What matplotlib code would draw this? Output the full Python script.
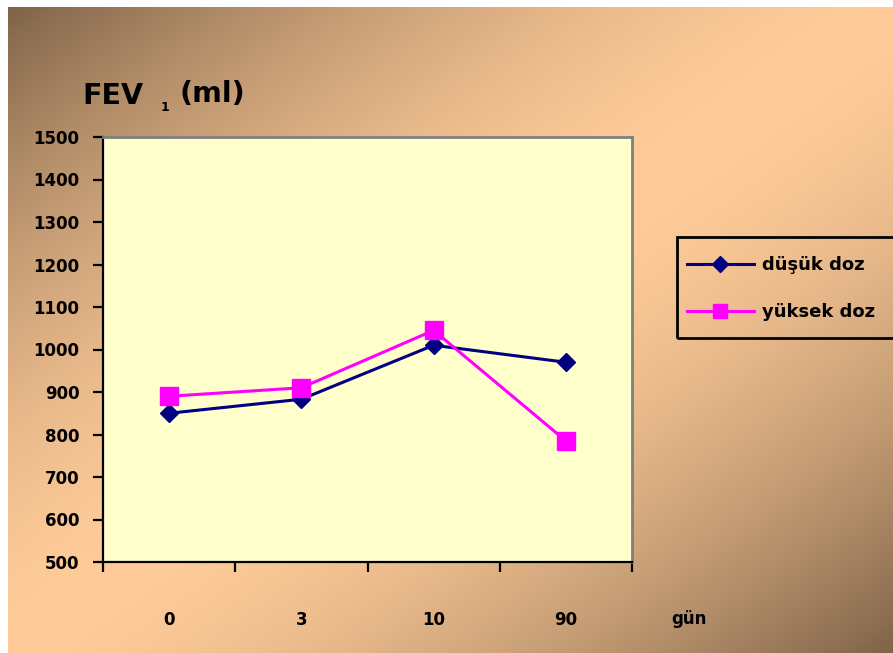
import matplotlib.pyplot as plt
import numpy as np
from matplotlib.patches import Rectangle

# data
days = ["0", "3", "10", "90"]
dusuk = [850, 883, 1010, 970]
yuksek = [890, 910, 1045, 785]
series_names = ["düşük doz", "yüksek doz"]
yticks = [500, 600, 700, 800, 900, 1000, 1100, 1200, 1300, 1400, 1500]

W, H = 893, 653
fig = plt.figure(figsize=(W / 100, H / 100), dpi=100, facecolor="white")
plt.rcParams["font.family"] = ["DejaVu Sans"]
plt.rcParams["font.weight"] = "bold"

# slide background: diagonal gradient, dark corners, peach middle
bg = fig.add_axes([8 / W, 0, 1 - 8 / W, 1 - 7 / H], zorder=-10)
gx, gy = np.meshgrid(np.linspace(0, 1, 400), np.linspace(0, 1, 300))
t = np.abs(gx + gy - 1) ** 1.6
light = np.array([255, 204, 153]) / 255
dark = np.array([128, 100, 73]) / 255
img = light + (dark - light) * t[..., None]
bg.imshow(img, aspect="auto", extent=[0, 1, 1, 0], interpolation="bilinear")
bg.axis("off")

# plot area
ax = fig.add_axes([103 / W, (H - 562) / H, 529 / W, 425 / H])
ax.set_facecolor("#FFFFCC")
x = np.arange(len(days))
ax.plot(x, dusuk, color="#000080", lw=2.2, marker="D", ms=9.5,
        label=series_names[0], zorder=3)
ax.plot(x, yuksek, color="#FF00FF", lw=2.2, marker="s", ms=12.5,
        label=series_names[1], zorder=3)

ax.set_xlim(-0.5, len(days) - 0.5)
ax.set_ylim(500, 1500)
ax.set_yticks(yticks)
ax.set_yticklabels([str(v) for v in yticks], fontsize=12, fontweight="bold")
ax.tick_params(axis="y", direction="out", length=7, width=1.6, pad=10)

# boundary ticks on x, category labels far below
ax.set_xticks(np.arange(-0.5, len(days)), minor=False)
ax.set_xticklabels([])
ax.tick_params(axis="x", direction="out", length=7, width=1.6)
ax.set_xticks(x, minor=True)
ax.set_xticklabels(days, minor=True, fontsize=12, fontweight="bold")
ax.tick_params(axis="x", which="minor", length=0, pad=35.5)

for s in ["left", "bottom"]:
    ax.spines[s].set_color("black")
    ax.spines[s].set_linewidth(1.6)
for s in ["top", "right"]:
    ax.spines[s].set_color("#808080")
    ax.spines[s].set_linewidth(2)

fig.text(689 / W, 1 - 619 / H, "gün", fontsize=12, fontweight="bold",
         ha="center", va="center")

# axis title "FEV 1 (ml)"
fig.text(82 / W, 1 - 104 / H, "FEV", fontsize=20.5, fontweight="bold", va="baseline")
fig.text(161 / W, 1 - 111 / H, "1", fontsize=9, fontweight="bold", va="baseline")
fig.text(179 / W, 1 - 102 / H, "(ml)", fontsize=20.5, fontweight="bold", va="baseline")

# legend without its own frame; box drawn separately
fig.legend(loc="upper left", bbox_to_anchor=(687 / W, 1 - 256 / H),
           frameon=False, prop={"size": 13, "weight": "bold"}, handlelength=3.7,
           handletextpad=0.45, labelspacing=1.6, borderpad=0,
           borderaxespad=0, markerscale=0.85)
fig.patches.append(Rectangle((677 / W, 1 - 338 / H), 230 / W, 101 / H,
                             transform=fig.transFigure, fill=False,
                             edgecolor="black", linewidth=2))

fig.savefig("out.png", dpi=100)
